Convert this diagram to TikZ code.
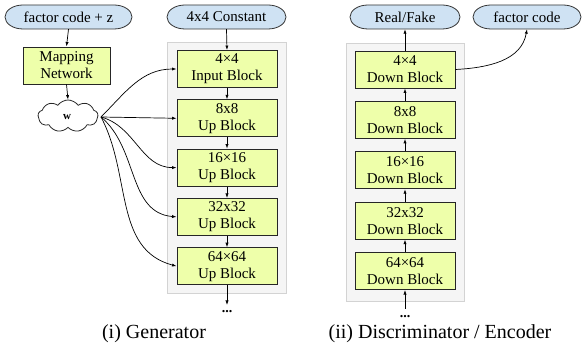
\documentclass[tikz,border=0pt]{standalone}
\usepackage{fontspec}
\setmainfont{Liberation Serif}
\usetikzlibrary{arrows.meta,shapes.symbols}
\definecolor{pillblue}{HTML}{CFE2F3}
\definecolor{blockgreen}{HTML}{EEFFAA}
\definecolor{panelgray}{HTML}{F5F5F5}
\definecolor{panelborder}{HTML}{D3D3D3}
\newcommand{\pillshape}[3]{% center x, center y (downwards), half width
  \begin{scope}[x=1pt,y=1pt]
  \filldraw[fill=pillblue,draw=black!80,line width=0.8pt]
    (#1-#3+18,-#2+12) -- (#1+#3-18,-#2+12)
    arc[start angle=90,end angle=-90,x radius=18,y radius=12]
    -- (#1-#3+18,-#2-12)
    arc[start angle=270,end angle=90,x radius=18,y radius=12] -- cycle;
  \end{scope}}
\begin{document}
\begin{tikzpicture}[x=1pt,y=-1pt,
  txt/.style={font=\fontsize{15}{17}\selectfont,inner sep=0pt,align=center},
  pilltext/.style={txt,minimum width=#1,minimum height=24pt},
  blockbox/.style={draw=black!85,line width=0.9pt,fill=blockgreen,minimum width=100pt,minimum height=37pt,inner sep=0pt,align=center,font=\fontsize{15}{17}\selectfont},
  panel/.style={draw=panelborder,fill=panelgray,line width=0.9pt},
  arr/.style={-{Latex[length=4.5pt,width=3.2pt]},line width=0.7pt,black},
  dotsty/.style={inner sep=0pt,font=\fontsize{14}{14}\selectfont\bfseries},
  captext/.style={inner sep=0pt,font=\fontsize{20}{22}\selectfont}]
\useasboundingbox (0,0) rectangle (582,344);
% panels
\draw[panel] (167,42) rectangle (286,293);
\draw[panel] (346,43) rectangle (464,301);
% pills
\pillshape{68.5}{17}{63.5}
\pillshape{226.5}{17}{59.5}
\pillshape{405}{17}{55}
\pillshape{527}{17}{54}
\node[pilltext=127pt] (fcz) at (68.5,17) {factor code + z};
\node[pilltext=119pt] (const) at (226.5,17) {4x4 Constant};
\node[pilltext=110pt] (rf) at (405,17) {Real/Fake};
\node[pilltext=108pt] (fc) at (527,17) {factor code};
% generator
\node[blockbox,minimum width=87pt] (map) at (66.5,65.5) {Mapping\\Network};
\node[cloud,cloud puffs=9,cloud puff arc=110,aspect=1.9,draw=black!85,fill=white,line width=0.8pt,minimum width=60pt,minimum height=32pt,inner sep=0pt] (w) at (68,116) {};
\node[inner sep=0pt,font=\fontsize{11}{11}\selectfont\bfseries] (wl) at (67,117) {w};
\node[blockbox] (g1) at (227,69) {4×4\\Input Block};
\node[blockbox] (g2) at (227,118.3) {8x8\\Up Block};
\node[blockbox] (g3) at (227,167.6) {16×16\\Up Block};
\node[blockbox] (g4) at (227,216.9) {32x32\\Up Block};
\node[blockbox] (g5) at (227,266.2) {64×64\\Up Block};
\node[dotsty] (gd) at (227,312) {...};
\coordinate (gdt) at (227,305);
\node[captext] (gcap) at (154,334) {(i) Generator};
% discriminator
\node[blockbox] (d1) at (405,69.5) {4×4\\Down Block};
\node[blockbox] (d2) at (405,119.9) {8x8\\Down Block};
\node[blockbox] (d3) at (405,170.3) {16×16\\Down Block};
\node[blockbox] (d4) at (405,220.7) {32x32\\Down Block};
\node[blockbox] (d5) at (405,271.1) {64×64\\Down Block};
\node[dotsty] (dd) at (405,317) {...};
\coordinate (ddt) at (405,309);
\node[captext] (dcap) at (440,334) {(ii) Discriminator / Encoder};
% connectors generator
\draw[arr] (fcz.south) -- (map.north);
\draw[arr] (map.south) -- (w.north);
\draw[arr] (const.south) -- (g1.north);
\draw[arr] (g1) -- (g2);
\draw[arr] (g2) -- (g3);
\draw[arr] (g3) -- (g4);
\draw[arr] (g4) -- (g5);
\draw[arr] (g5.south) -- (gdt);
\coordinate (wo) at (101,117);
\draw[arr] (wo) to[out=45,in=180] (g1.west);
\draw[arr] (wo) -- (g2.west);
\draw[arr] (wo) to[out=-15,in=180] (g3.west);
\draw[arr] (wo) to[out=-40,in=175] (g4.west);
\draw[arr] (wo) to[out=-62,in=165] (g5.west);
% connectors discriminator
\draw[arr] (ddt) -- (d5.south);
\draw[arr] (d5) -- (d4);
\draw[arr] (d4) -- (d3);
\draw[arr] (d3) -- (d2);
\draw[arr] (d2) -- (d1);
\draw[arr] (d1.north) -- (rf.south);
\draw[arr] (d1.east) to[out=3,in=-100] (fc.south);
\end{tikzpicture}
\end{document}
